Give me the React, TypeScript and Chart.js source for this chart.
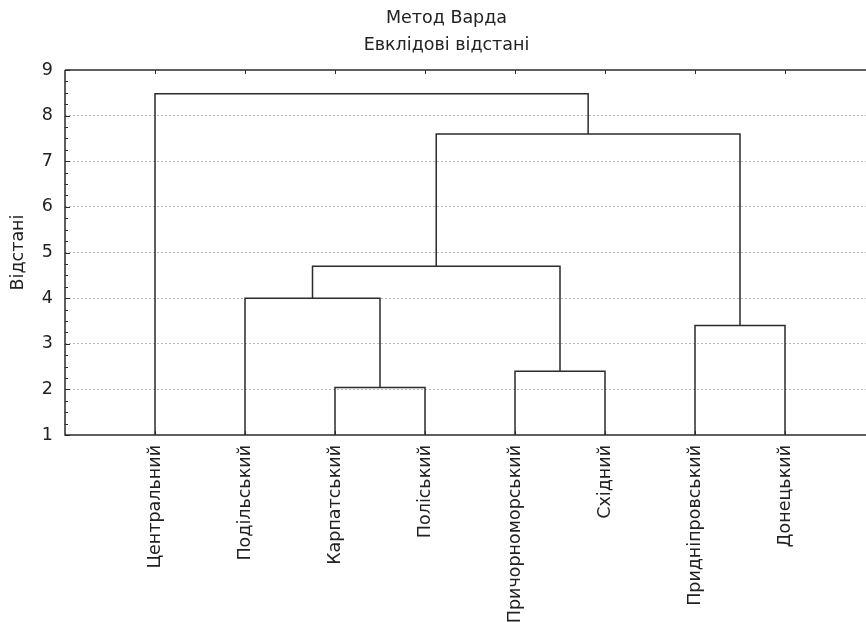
import React, { useEffect, useRef } from "react";
import { Chart, registerables } from "chart.js";

Chart.register(...registerables);

const leaves = [
  "Центральний",
  "Подільський",
  "Карпатський",
  "Поліський",
  "Причорноморський",
  "Східний",
  "Придніпровський",
  "Донецький",
];

// merges: [left id, right id]; leaves are 0..7, each merge creates id 8, 9, ...
const mergeLeft = [2, 4, 6, 1, 11, 12, 0];
const mergeRight = [3, 5, 7, 8, 9, 10, 13];
const mergeHeight = [2.04, 2.4, 3.4, 4.0, 4.7, 7.6, 8.48];

const yTicks = [1, 2, 3, 4, 5, 6, 7, 8, 9];
const xMax = 9.2;

const FONT = "'DejaVu Sans', 'Liberation Sans', Arial, sans-serif";
const FS = 17.5;
const LINE = "#2b2b2b";
const TEXT = "#222222";

function buildLinks() {
  const xs: number[] = leaves.map((_, i) => i + 1);
  const hs: number[] = leaves.map(() => 1);
  const links: { x: number; y: number }[][] = [];
  for (let k = 0; k < mergeLeft.length; k++) {
    const a = mergeLeft[k];
    const b = mergeRight[k];
    const h = mergeHeight[k];
    links.push([
      { x: xs[a], y: hs[a] },
      { x: xs[a], y: h },
      { x: xs[b], y: h },
      { x: xs[b], y: hs[b] },
    ]);
    xs.push((xs[a] + xs[b]) / 2);
    hs.push(h);
  }
  return links;
}

const framePlugin = {
  id: "frame",
  afterDraw(chart: any) {
    const { ctx, chartArea } = chart;
    const xs = chart.scales.x;
    const ys = chart.scales.y;
    ctx.save();
    ctx.strokeStyle = LINE;
    ctx.lineWidth = 1.5;
    ctx.beginPath();
    ctx.moveTo(chartArea.left, chartArea.top);
    ctx.lineTo(chartArea.right, chartArea.top);
    ctx.moveTo(chartArea.left, chartArea.top);
    ctx.lineTo(chartArea.left, chartArea.bottom);
    ctx.lineTo(chartArea.right, chartArea.bottom);
    ctx.stroke();
    ctx.lineWidth = 1;
    ctx.beginPath();
    for (let v = yTicks[0]; v <= yTicks[yTicks.length - 1] + 1e-9; v += 0.25) {
      const py = Math.round(ys.getPixelForValue(v)) + 0.5;
      const major = Math.abs(v - Math.round(v)) < 1e-6;
      ctx.moveTo(chartArea.left, py);
      ctx.lineTo(chartArea.left + (major ? 5 : 3), py);
    }
    leaves.forEach((_, i) => {
      const px = Math.round(xs.getPixelForValue(i + 1)) + 0.5;
      ctx.moveTo(px, chartArea.top);
      ctx.lineTo(px, chartArea.top + 4);
      ctx.moveTo(px, chartArea.bottom);
      ctx.lineTo(px, chartArea.bottom - 4);
    });
    ctx.stroke();
    ctx.restore();
  },
};

export default function App() {
  const ref = useRef<HTMLCanvasElement | null>(null);
  useEffect(() => {
    if (!ref.current) return;
    const chart = new Chart(ref.current, {
      type: "line",
      data: {
        datasets: buildLinks().map((pts) => ({
          data: pts as any,
          borderColor: LINE,
          borderWidth: 1.5,
          pointRadius: 0,
          tension: 0,
          fill: false,
        })),
      },
      options: {
        animation: false,
        responsive: false,
        devicePixelRatio: 1,
        layout: { padding: 0 },
        plugins: {
          legend: { display: false },
          tooltip: { enabled: false },
          title: {
            display: true,
            text: ["Метод Варда", "Евклідові відстані"],
            color: TEXT,
            font: { family: FONT, size: FS, weight: "normal", lineHeight: 27 / FS },
            padding: { top: 5, bottom: 11 },
          },
        },
        scales: {
          x: {
            type: "linear",
            min: 0,
            max: xMax,
            afterBuildTicks: (scale: any) => {
              scale.ticks = leaves.map((_, i) => ({ value: i + 1 }));
            },
            afterFit: (scale: any) => {
              scale.height = 622 - 435;
            },
            ticks: {
              autoSkip: false,
              maxRotation: 90,
              minRotation: 90,
              padding: 10,
              color: TEXT,
              font: { family: FONT, size: FS },
              callback: (v: any) => leaves[Math.round(Number(v)) - 1] ?? "",
            },
            grid: { display: false, drawTicks: false },
            border: { display: false },
          },
          y: {
            type: "linear",
            min: yTicks[0],
            max: yTicks[yTicks.length - 1],
            afterBuildTicks: (scale: any) => {
              scale.ticks = yTicks.map((v) => ({ value: v }));
            },
            afterFit: (scale: any) => {
              scale.width = 65;
            },
            ticks: {
              padding: 12,
              color: TEXT,
              font: { family: FONT, size: FS },
            },
            title: {
              display: true,
              text: "Відстані",
              color: TEXT,
              font: { family: FONT, size: FS },
              padding: { top: 8, bottom: 0 },
            },
            grid: {
              drawTicks: false,
              color: (c: any) =>
                c.tick && c.tick.value > yTicks[0] && c.tick.value < yTicks[yTicks.length - 1]
                  ? "#b8b8b8"
                  : "rgba(0,0,0,0)",
              lineWidth: 1,
            },
            border: { display: false, dash: [2, 2] },
          },
        },
      },
      plugins: [framePlugin],
    });
    return () => chart.destroy();
  }, []);
  return (
    <div style={{ position: "absolute", left: 0, top: 0, width: 866, height: 622, overflow: "hidden", background: "#fff" }}>
      <canvas ref={ref} width={893} height={622} style={{ display: "block" }} />
    </div>
  );
}
